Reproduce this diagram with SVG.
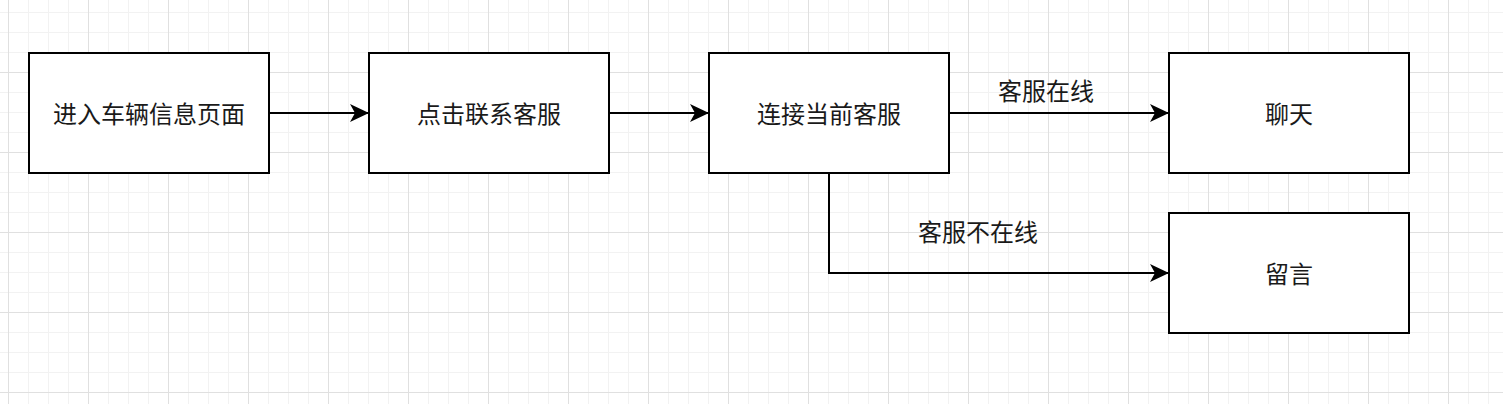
<svg xmlns="http://www.w3.org/2000/svg" width="1503" height="404" viewBox="0 0 1503 404">
  <style>
    .box { fill: #ffffff; stroke: #000000; stroke-width: 2; }
    .lbl { font-family: "Noto Sans CJK SC", "Noto Sans", sans-serif; font-size: 24px; fill: #1a1a1a; text-anchor: middle; }
    .edge { fill: none; stroke: #000000; stroke-width: 2; }
  </style>
  <defs>
    <pattern id="minor" patternUnits="userSpaceOnUse" x="8" y="12" width="20" height="20">
      <path d="M0.5 0 V20 M0 0.5 H20" stroke="#f2f2f2" stroke-width="1" fill="none"/>
    </pattern>
    <pattern id="major" patternUnits="userSpaceOnUse" x="8" y="72" width="80" height="80">
      <path d="M0.5 0 V80 M0 0.5 H80" stroke="#e0e0e0" stroke-width="1" fill="none"/>
    </pattern>
    <marker id="arrow" markerUnits="userSpaceOnUse" viewBox="0 0 19 18" refX="19" refY="9" markerWidth="19" markerHeight="18" orient="auto">
      <path d="M19 9 L0 0 L5 9 L0 18 Z" fill="#000000"/>
    </marker>
  </defs>
  <rect x="0" y="0" width="1503" height="404" fill="#ffffff"/>
  <rect x="0" y="0" width="1503" height="404" fill="url(#minor)"/>
  <rect x="0" y="0" width="1503" height="404" fill="url(#major)"/>

  <g id="connectors">
    <path class="edge" d="M269 113 H369" marker-end="url(#arrow)"/>
    <path class="edge" d="M609 113 H709" marker-end="url(#arrow)"/>
    <path class="edge" d="M949 113 H1169" marker-end="url(#arrow)"/>
    <text class="lbl" x="1046" y="100">客服在线</text>
    <path class="edge" d="M829 173 V273 H1169" marker-end="url(#arrow)"/>
    <text class="lbl" x="978" y="241">客服不在线</text>
  </g>

  <g id="node1">
    <rect class="box" x="29" y="53" width="240" height="120"/>
    <text class="lbl" x="149" y="123">进入车辆信息页面</text>
  </g>
  <g id="node2">
    <rect class="box" x="369" y="53" width="240" height="120"/>
    <text class="lbl" x="489" y="123">点击联系客服</text>
  </g>
  <g id="node3">
    <rect class="box" x="709" y="53" width="240" height="120"/>
    <text class="lbl" x="829" y="123">连接当前客服</text>
  </g>
  <g id="node4">
    <rect class="box" x="1169" y="53" width="240" height="120"/>
    <text class="lbl" x="1289" y="123">聊天</text>
  </g>
  <g id="node5">
    <rect class="box" x="1169" y="213" width="240" height="120"/>
    <text class="lbl" x="1289" y="283">留言</text>
  </g>
</svg>
